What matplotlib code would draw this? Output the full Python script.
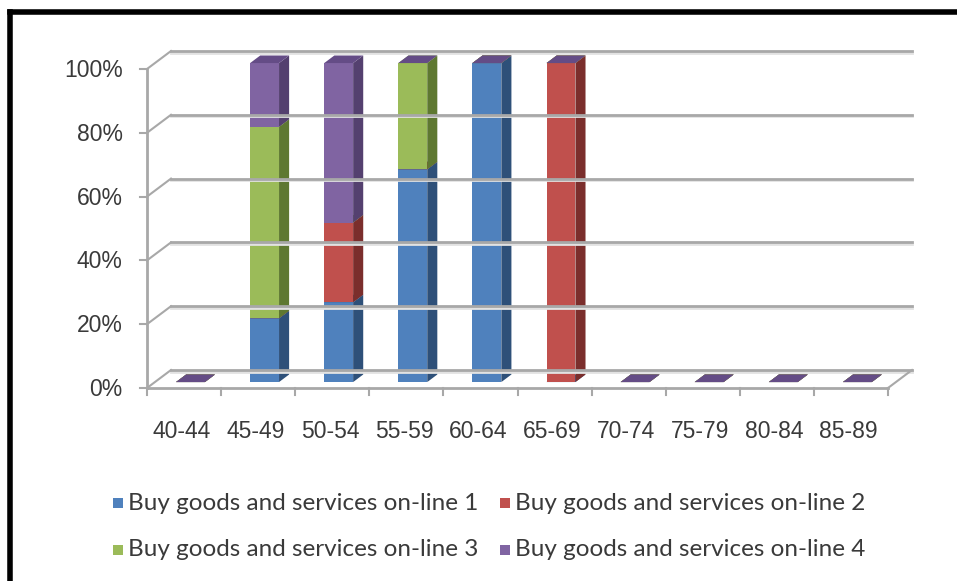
import matplotlib
matplotlib.use('Agg')
import matplotlib.pyplot as plt
from matplotlib.patches import Polygon, Rectangle
from matplotlib.lines import Line2D

# age groups and share of each answer (percent of group)
ages = ['40-44', '45-49', '50-54', '55-59', '60-64',
        '65-69', '70-74', '75-79', '80-84', '85-89']
online1 = [0, 20, 25, 66.7, 100, 0, 0, 0, 0, 0]
online2 = [0, 0, 25, 0, 0, 100, 0, 0, 0, 0]
online3 = [0, 60, 0, 33.3, 0, 0, 0, 0, 0, 0]
online4 = [0, 20, 50, 0, 0, 0, 0, 0, 0, 0]
names = ['Buy goods and services on-line 1', 'Buy goods and services on-line 2',
         'Buy goods and services on-line 3', 'Buy goods and services on-line 4']
yticks = [0, 20, 40, 60, 80, 100]

front = ['#4F81BD', '#C0504D', '#9BBB59', '#8064A2']
side = ['#2E5079', '#7B2E2C', '#5E7831', '#54406F']
top = ['#3D6699', '#9A3F3C', '#7D9A46', '#644C86']

DX = 24 / 74.1   # depth offset in x units
DY = 18 / 3.19   # depth offset in percent units
Z0, Z1 = 0.33, 0.75
W = 0.39

def P(x, y, z):
    return (x + z * DX, y + z * DY)

fig = plt.figure(figsize=(9.57, 5.81), dpi=100)
ax = fig.add_axes([147 / 957, (581 - 388) / 581, 765 / 957, 337 / 581])
ax.set_xlim(0, 10 + DX)
ax.set_ylim(0, 100 + DY)
ax.axis('off')

grid = '#a8a8a8'
n = len(ages)

# back wall gridlines and side wall diagonals
for v in yticks:
    ax.add_line(Line2D([DX, n + DX], [v + DY - 0.5, v + DY - 0.5], color='#e2e2e2', lw=2, clip_on=False))
    ax.add_line(Line2D([DX, n + DX], [v + DY, v + DY], color=grid, lw=2, clip_on=False))
    ax.add_line(Line2D([0, DX], [v, v + DY], color=grid, lw=1.5, clip_on=False))
    ax.add_line(Line2D([-0.1, 0], [v, v], color=grid, lw=1.5, clip_on=False))
    ax.text(-0.33, v - 0.5, '%d%%' % v, ha='right', va='center', fontsize=16.5,
            color='#3a3a3a', family='Liberation Sans')

# left axis, floor front edge and right floor edge
ax.add_line(Line2D([0, 0], [0, 100], color=grid, lw=2, clip_on=False))
ax.add_line(Line2D([0, n], [0, 0], color=grid, lw=2, clip_on=False))
ax.add_line(Line2D([n, n + DX], [0, DY], color=grid, lw=1.5, clip_on=False))
for i in range(n + 1):
    ax.add_line(Line2D([i, i], [0, -2.2], color=grid, lw=1.5, clip_on=False))

for i, lab in enumerate(ages):
    ax.text(i + 0.47, -13.5, lab, ha='center', va='center', fontsize=16.5,
            color='#3a3a3a', family='Liberation Sans')

# stacked 3d columns
series = [online1, online2, online3, online4]
for i in range(n):
    x0 = i + 0.48 - W / 2
    x1 = x0 + W
    base = 0
    for s, vals in enumerate(series):
        h = vals[i]
        y0, y1 = base, base + h
        if h > 0:
            ax.add_patch(Polygon([P(x0, y0, Z0), P(x1, y0, Z0), P(x1, y1, Z0), P(x0, y1, Z0)],
                                 closed=True, fc=front[s], ec='none', clip_on=False))
            ax.add_patch(Polygon([P(x1, y0, Z0), P(x1, y0, Z1), P(x1, y1, Z1), P(x1, y1, Z0)],
                                 closed=True, fc=side[s], ec='none', clip_on=False))
        ax.add_patch(Polygon([P(x0, y1, Z0), P(x1, y1, Z0), P(x1, y1, Z1), P(x0, y1, Z1)],
                             closed=True, fc=top[s], ec='none', clip_on=False))
        base = y1

# legend, two rows
leg_pos = [(113, 503), (500, 503), (113, 550), (500, 550)]
for s, (lx, ly) in enumerate(leg_pos):
    fig.patches.append(Rectangle((lx / 957, 1 - (ly + 5) / 581), 10 / 957, 10 / 581,
                                 transform=fig.transFigure, fc=front[s], ec='none'))
    fig.text((lx + 15) / 957, 1 - ly / 581, names[s], ha='left', va='center',
             fontsize=17.5, color='#3a3a3a', family='Lato')

# outer frame, left and top edges
fig.add_artist(Line2D([9.5 / 957, 9.5 / 957], [0, 1 - 12 / 581], color='black', lw=4,
                      transform=fig.transFigure, solid_capstyle='projecting'))
fig.add_artist(Line2D([9.5 / 957, 1], [1 - 12 / 581, 1 - 12 / 581], color='black', lw=4,
                      transform=fig.transFigure, solid_capstyle='projecting'))

fig.savefig('out.png', dpi=100)
